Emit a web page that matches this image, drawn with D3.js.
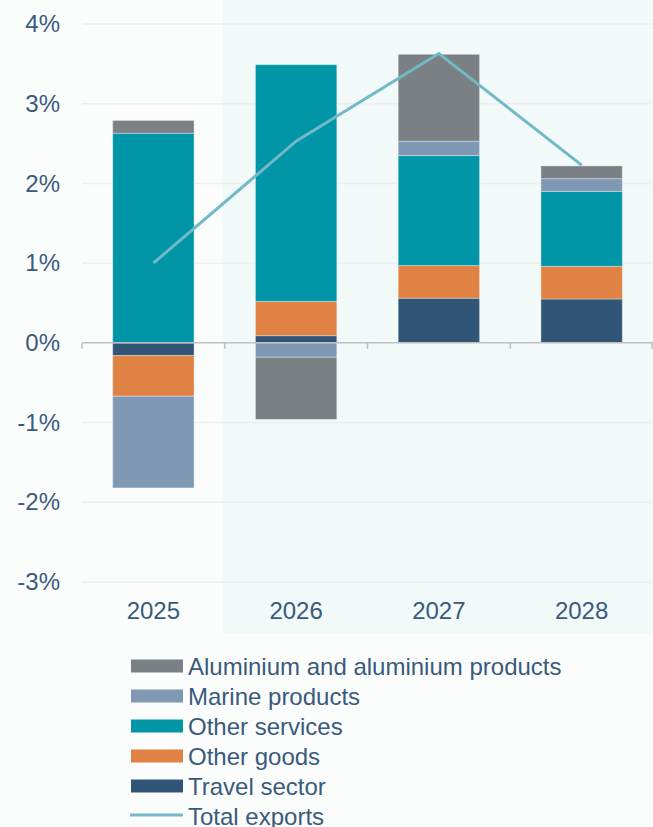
<!DOCTYPE html>
<html>
<head>
<meta charset="utf-8">
<script src="https://cdn.jsdelivr.net/npm/d3@7"></script>
<style>
  html, body { margin: 0; padding: 0; background: #fbfdfd; }
  svg { display: block; font-family: "Liberation Sans", Arial, sans-serif; }
</style>
</head>
<body>
<svg id="chart" width="653" height="827"></svg>
<script>
// Contributions to export growth, percentage points
const years = ["2025", "2026", "2027", "2028"];
const travelSector = [-0.16, 0.09, 0.56, 0.55];
const otherGoods = [-0.51, 0.43, 0.41, 0.41];
const otherServices = [2.63, 2.97, 1.38, 0.94];
const marineProducts = [-1.15, -0.18, 0.18, 0.16];
const aluminium = [0.16, -0.78, 1.09, 0.16];
const totalExports = [1.0, 2.53, 3.63, 2.23];
const yTicks = [-3, -2, -1, 0, 1, 2, 3, 4];

const series = [
  { name: "Travel sector", values: travelSector, color: "#305576" },
  { name: "Other goods", values: otherGoods, color: "#df8244" },
  { name: "Other services", values: otherServices, color: "#0096a8" },
  { name: "Marine products", values: marineProducts, color: "#7f98b3" },
  { name: "Aluminium and aluminium products", values: aluminium, color: "#7a8083" }
];
const lineColor = "#72b9c8";
const textColor = "#3a5a7c";
const fontSize = 24;

const svg = d3.select("#chart");
const plotLeft = 82, plotRight = 653, plotTop = 24, plotBottom = 582;

const x = d3.scaleBand().domain(years).range([plotLeft, plotRight]).paddingInner(0.43).paddingOuter(0.215);
const y = d3.scaleLinear().domain([-3, 4]).range([plotBottom, plotTop]);

// Forecast period shading
const shadeStart = (x("2025") + x("2026") + x.bandwidth()) / 2 - 2;
svg.append("rect")
  .attr("x", shadeStart)
  .attr("y", 0)
  .attr("width", plotRight - shadeStart)
  .attr("height", 634)
  .attr("fill", "#f1f9f9");

// Horizontal gridlines
svg.append("g")
  .selectAll("line")
  .data(yTicks.filter(d => d !== 0))
  .join("line")
  .attr("x1", plotLeft).attr("x2", plotRight)
  .attr("y1", d => y(d)).attr("y2", d => y(d))
  .attr("stroke", "#eeeeee").attr("stroke-width", 1.5);

// Y axis labels
const yAxis = d3.axisLeft(y).tickValues(yTicks).tickFormat(d => d + "%").tickSize(0).tickPadding(22);
const yg = svg.append("g").attr("transform", `translate(${plotLeft},0)`).call(yAxis);
yg.select(".domain").remove();
yg.selectAll("text").attr("fill", textColor).attr("font-size", fontSize).attr("font-family", "Liberation Sans, Arial, sans-serif");

// Stacked bars: positive and negative parts stacked separately from zero
years.forEach((yr, i) => {
  let pos = 0, neg = 0;
  series.forEach(s => {
    const v = s.values[i];
    let y0, y1;
    if (v >= 0) { y0 = pos; y1 = pos + v; pos = y1; }
    else { y0 = neg; y1 = neg + v; neg = y1; }
    svg.append("rect")
      .attr("x", x(yr))
      .attr("width", x.bandwidth())
      .attr("y", y(Math.max(y0, y1)))
      .attr("height", Math.abs(y(y0) - y(y1)))
      .attr("fill", s.color)
      .attr("stroke", "rgba(255,255,255,0.35)")
      .attr("stroke-width", 1);
  });
});

// Zero axis with category separators
const zero = svg.append("g").attr("transform", `translate(0,${y(0)})`);
zero.append("line").attr("x1", plotLeft).attr("x2", plotRight).attr("stroke", "#c0c0c0").attr("stroke-width", 1.5);
const step = x.step();
const seps = d3.range(years.length + 1).map(k => x(years[0]) - x.paddingOuter() * step + k * step);
zero.selectAll("line.sep").data(seps).join("line").attr("class", "sep")
  .attr("x1", d => Math.min(d, plotRight - 1)).attr("x2", d => Math.min(d, plotRight - 1))
  .attr("y1", 0).attr("y2", 6)
  .attr("stroke", "#c0c0c0").attr("stroke-width", 1.5);

// Year labels
svg.append("g").selectAll("text").data(years).join("text")
  .attr("x", d => x(d) + x.bandwidth() / 2)
  .attr("y", 619)
  .attr("text-anchor", "middle")
  .attr("fill", textColor).attr("font-size", fontSize)
  .text(d => d);

// Total exports line
const line = d3.line().x((d, i) => x(years[i]) + x.bandwidth() / 2).y(d => y(d));
svg.append("path").datum(totalExports)
  .attr("d", line)
  .attr("fill", "none").attr("stroke", lineColor).attr("stroke-width", 3);

// Legend
const legendItems = [
  { name: "Aluminium and aluminium products", color: "#7a8083", type: "bar" },
  { name: "Marine products", color: "#7f98b3", type: "bar" },
  { name: "Other services", color: "#0096a8", type: "bar" },
  { name: "Other goods", color: "#df8244", type: "bar" },
  { name: "Travel sector", color: "#305576", type: "bar" },
  { name: "Total exports", color: lineColor, type: "line" }
];
const lg = svg.append("g");
legendItems.forEach((d, i) => {
  const cy = 666 + i * 30;
  if (d.type === "bar") {
    lg.append("rect").attr("x", 131).attr("y", cy - 6.5).attr("width", 52).attr("height", 13).attr("fill", d.color);
  } else {
    lg.append("line").attr("x1", 130).attr("x2", 183).attr("y1", cy - 1).attr("y2", cy - 1)
      .attr("stroke", d.color).attr("stroke-width", 3);
  }
  lg.append("text").attr("x", 188).attr("y", cy + 8.5)
    .attr("fill", textColor).attr("font-size", fontSize).text(d.name);
});
</script>
</body>
</html>
